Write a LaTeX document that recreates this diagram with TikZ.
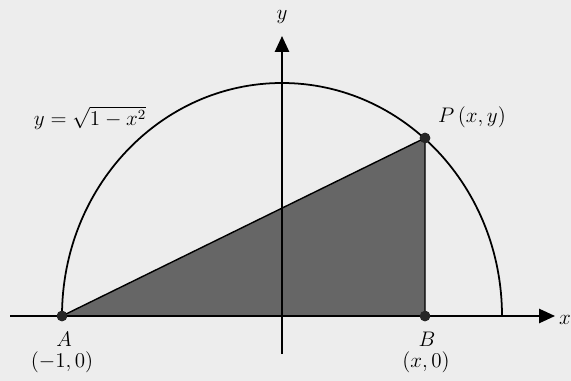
\documentclass[tikz,border=0pt]{standalone}
\usepackage{fontspec}
\setmainfont{Liberation Serif}
\usetikzlibrary{arrows.meta}
\begin{document}
\begin{tikzpicture}[x=0.02cm,y=-0.02cm,
  axis/.style={line width=1.2pt,-{Triangle[length=9pt,width=8pt]}},
  curve/.style={line width=1pt},
  dot/.style={circle,fill=black!85,inner sep=0pt,minimum size=6pt},
  lab/.style={font=\large},
  shade/.style={fill=black!60}]
\fill[black!7] (0,0) rectangle (571,381);
\useasboundingbox (0,0) rectangle (571,381);
\coordinate (O) at (282,316);
\coordinate (xs) at (10,316);
\coordinate (xe) at (555,316);
\coordinate (ys) at (282,354);
\coordinate (ye) at (282,36);
\node[dot] (A) at (62,316) {};
\node[dot] (B) at (425,316) {};
\node[dot] (P) at (425,138) {};
\fill[shade] (A.center) -- (P.center) -- (B.center) -- cycle;
\draw[line width=0.8pt] (A.center) -- (P.center) -- (B.center);
\draw[curve] (A.center) arc[start angle=180,end angle=0,x radius=220,y radius=-233];
\draw[axis] (xs) -- (xe);
\draw[axis] (ys) -- (ye);
\node[dot] at (A) {};
\node[dot] at (B) {};
\node[dot] at (P) {};
\node[lab] (ylab) at (282,17) {$y$};
\node[lab,anchor=west,inner sep=1pt] (xlab) at (557,320) {$x$};
\node[lab] (curvelab) at (90,118) {$y=\sqrt{1-x^2}$};
\node[lab] (Plab) at (472,117) {$P\,(x,y)$};
\node[lab] (Alab) at (64,339) {$A$};
\node[lab] (Acoord) at (62,362) {$(-1,0)$};
\node[lab] (Blab) at (427,339) {$B$};
\node[lab] (Bcoord) at (426,362) {$(x,0)$};
\end{tikzpicture}
\end{document}
